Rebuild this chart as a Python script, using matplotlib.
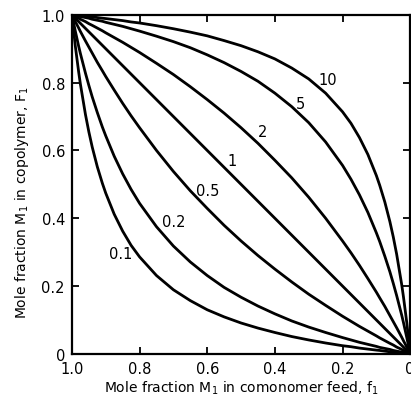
import matplotlib
matplotlib.use("Agg")
import matplotlib.pyplot as plt

# Feed composition f1 (sample points)
f1 = [1.0, 0.99, 0.98, 0.975, 0.96, 0.95, 0.94, 0.925, 0.91, 0.9, 0.875, 0.85, 0.825,
      0.8, 0.75, 0.7, 0.65, 0.6, 0.55, 0.5, 0.45, 0.4, 0.35, 0.3, 0.25, 0.2, 0.175,
      0.15, 0.125, 0.1, 0.09, 0.075, 0.06, 0.05, 0.04, 0.025, 0.02, 0.01, 0.0]

# Copolymer composition F1 for each r1 curve
F_r01 = [1.0, 0.908, 0.831, 0.796, 0.706, 0.655, 0.610, 0.552, 0.503, 0.474, 0.412, 0.362, 0.320,
         0.286, 0.231, 0.189, 0.157, 0.130, 0.109, 0.091, 0.076, 0.063, 0.051, 0.041, 0.032, 0.024, 0.021,
         0.017, 0.014, 0.011, 0.010, 0.008, 0.006, 0.005, 0.004, 0.003, 0.002, 0.001, 0.0]
F_r02 = [1.0, 0.952, 0.907, 0.886, 0.828, 0.792, 0.758, 0.712, 0.669, 0.643, 0.583, 0.531, 0.485,
         0.444, 0.375, 0.318, 0.271, 0.231, 0.196, 0.167, 0.141, 0.118, 0.097, 0.079, 0.063, 0.048, 0.041,
         0.034, 0.028, 0.022, 0.019, 0.016, 0.013, 0.010, 0.008, 0.005, 0.004, 0.002, 0.0]
F_r05 = [1.0, 0.980, 0.961, 0.951, 0.923, 0.905, 0.887, 0.860, 0.835, 0.818, 0.778, 0.739, 0.702,
         0.667, 0.600, 0.538, 0.481, 0.429, 0.379, 0.333, 0.290, 0.250, 0.212, 0.176, 0.143, 0.111, 0.096,
         0.081, 0.067, 0.053, 0.047, 0.039, 0.031, 0.026, 0.020, 0.013, 0.010, 0.005, 0.0]
F_r1 = [1.0, 0.99, 0.98, 0.975, 0.96, 0.95, 0.94, 0.925, 0.91, 0.9, 0.875, 0.85, 0.825,
        0.8, 0.75, 0.7, 0.65, 0.6, 0.55, 0.5, 0.45, 0.4, 0.35, 0.3, 0.25, 0.2, 0.175,
        0.15, 0.125, 0.1, 0.09, 0.075, 0.06, 0.05, 0.04, 0.025, 0.02, 0.01, 0.0]
F_r2 = [1.0, 0.995, 0.990, 0.987, 0.980, 0.974, 0.969, 0.961, 0.953, 0.947, 0.933, 0.919, 0.904,
        0.889, 0.857, 0.824, 0.788, 0.750, 0.710, 0.667, 0.621, 0.571, 0.519, 0.462, 0.400, 0.333, 0.298,
        0.261, 0.222, 0.182, 0.165, 0.140, 0.113, 0.095, 0.077, 0.049, 0.039, 0.020, 0.0]
F_r5 = [1.0, 0.998, 0.996, 0.995, 0.992, 0.990, 0.987, 0.984, 0.981, 0.978, 0.972, 0.966, 0.959,
        0.952, 0.937, 0.921, 0.903, 0.882, 0.859, 0.833, 0.804, 0.769, 0.729, 0.682, 0.625, 0.556, 0.515,
        0.469, 0.417, 0.357, 0.331, 0.288, 0.242, 0.208, 0.172, 0.114, 0.093, 0.048, 0.0]
F_r10 = [1.0, 0.999, 0.998, 0.997, 0.996, 0.995, 0.994, 0.992, 0.990, 0.989, 0.986, 0.983, 0.979,
         0.976, 0.968, 0.959, 0.949, 0.938, 0.924, 0.909, 0.891, 0.870, 0.843, 0.811, 0.769, 0.714, 0.680,
         0.638, 0.588, 0.526, 0.497, 0.448, 0.390, 0.345, 0.294, 0.204, 0.169, 0.092, 0.0]

curves = [F_r01, F_r02, F_r05, F_r1, F_r2, F_r5, F_r10]
curve_labels = ["0.1", "0.2", "0.5", "1", "2", "5", "10"]
label_f = [0.855, 0.698, 0.598, 0.527, 0.435, 0.325, 0.243]
label_F = [0.295, 0.389, 0.481, 0.569, 0.655, 0.737, 0.810]

ticks = [1.0, 0.8, 0.6, 0.4, 0.2, 0.0]
tick_labels = ["1.0", "0.8", "0.6", "0.4", "0.2", "0"]

fig = plt.figure(figsize=(4.11, 4.06), dpi=100)
ax = fig.add_axes([0.175, 0.126, 0.823, 0.835])

for F in curves:
    ax.plot(f1, F, color="black", lw=2.0, solid_capstyle="round", solid_joinstyle="round")

for lab, x, y in zip(curve_labels, label_f, label_F):
    ax.text(x, y, lab, fontsize=10.5, ha="center", va="center")

ax.set_xlim(1.0, 0.0)
ax.set_ylim(0.0, 1.0)
ax.set_xticks(ticks)
ax.set_xticklabels(tick_labels)
ax.set_yticks(ticks)
ax.set_yticklabels(tick_labels)
ax.tick_params(direction="in", length=5, width=1.3, top=True, right=True,
               labelsize=10.5, pad=5)
for s in ax.spines.values():
    s.set_linewidth(1.6)

ax.set_xlabel(r"Mole fraction M$_1$ in comonomer feed, f$_1$", fontsize=10, labelpad=2)
ax.set_ylabel(r"Mole fraction M$_1$ in copolymer, F$_1$", fontsize=10, labelpad=5)
ax.yaxis.set_label_coords(-0.12, 0.45)

fig.savefig("out.png", dpi=100)
